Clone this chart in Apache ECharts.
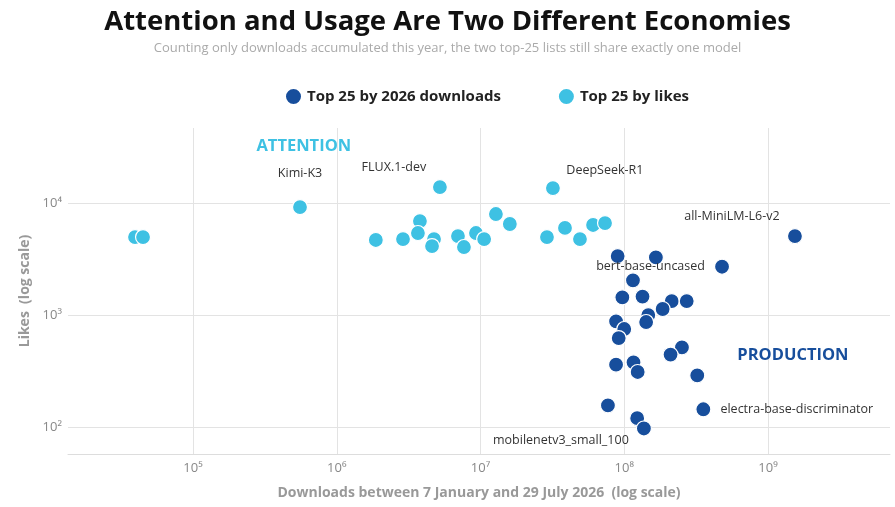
<!DOCTYPE html>
<html>
<head>
<meta charset="utf-8">
<script src="https://cdn.jsdelivr.net/npm/echarts@6/dist/echarts.min.js"></script>
<style>
  html, body { margin: 0; padding: 0; background: #fff; }
  #chart { width: 895px; height: 507px; }
</style>
</head>
<body>
<div id="chart"></div>
<script>
// top 25 by 2026 downloads (dark blue)
var dlNames = ['all-MiniLM-L6-v2', '', '', 'bert-base-uncased', '', '', '', '', '', '', '', '', '', '', '', '', '', '', '', '', '', 'electra-base-discriminator', '', 'mobilenetv3_small_100', ''];
var dlDownloads = [1.54e9, 9.0e7, 1.66e8, 4.79e8, 1.15e8, 9.7e7, 1.34e8, 2.14e8, 2.72e8, 1.85e8, 1.47e8, 1.42e8, 8.77e7, 1.0e8, 9.15e7, 2.52e8, 2.1e8, 8.77e7, 1.16e8, 1.24e8, 3.22e8, 3.55e8, 1.23e8, 1.37e8, 7.7e7];
var dlLikes = [5070, 3360, 3270, 2700, 2040, 1440, 1460, 1333, 1333, 1132, 1000, 866, 879, 750, 623, 514, 443, 360, 378, 310, 289, 144, 120, 97, 156];

// top 25 by likes (cyan)
var lkNames = ['', '', 'Kimi-K3', 'FLUX.1-dev', 'DeepSeek-R1', '', '', '', '', '', '', '', '', '', '', '', '', '', '', '', '', ''];
var lkDownloads = [3.95e4, 4.49e4, 5.55e5, 5.22e6, 3.19e7, 1.87e6, 2.89e6, 3.79e6, 3.67e6, 4.75e6, 4.6e6, 6.97e6, 9.3e6, 7.67e6, 1.06e7, 1.28e7, 1.6e7, 2.9e7, 3.87e7, 4.92e7, 6.07e7, 7.35e7];
var lkLikes = [4970, 4970, 9210, 13900, 13600, 4680, 4770, 6900, 5400, 4770, 4130, 5070, 5400, 4050, 4770, 7980, 6500, 4970, 5990, 4770, 6370, 6630];

// gridline positions (decades)
var xTicks = [1e5, 1e6, 1e7, 1e8, 1e9];
var yTicks = [1e2, 1e3, 1e4];

var DARK = '#174e9c';
var CYAN = '#3ec1e3';
var FONT = 'Open Sans';

// where each model name sits next to its dot
var labelPlace = {
  'all-MiniLM-L6-v2': { position: 'top', offset: [-63, 0] },
  'bert-base-uncased': { position: 'left', distance: 9 },
  'electra-base-discriminator': { position: 'right', distance: 9 },
  'mobilenetv3_small_100': { position: 'bottom', offset: [-83, -8] },
  'Kimi-K3': { position: 'top', distance: 19 },
  'FLUX.1-dev': { position: 'top', offset: [-46, 0] },
  'DeepSeek-R1': { position: 'top', offset: [52, 2] }
};

var SUP = { '0': '⁰', '1': '¹', '2': '²', '3': '³', '4': '⁴', '5': '⁵', '6': '⁶', '7': '⁷', '8': '⁸', '9': '⁹' };
function powLabel(v) {
  var e = Math.log10(v);
  var r = Math.round(e);
  if (Math.abs(e - r) > 1e-6) return '';
  return '10' + String(r).split('').map(function (c) { return SUP[c]; }).join('');
}

function buildData(names, xs, ys) {
  return xs.map(function (x, i) {
    var item = { name: names[i], value: [x, ys[i]] };
    if (names[i]) {
      item.label = Object.assign({
        show: true,
        formatter: '{b}',
        color: '#333',
        fontSize: 12.5,
        fontFamily: FONT
      }, labelPlace[names[i]]);
    }
    return item;
  });
}

// split lines drawn as markLines so the plot edges stay open
var gridLines = xTicks.map(function (v) { return { xAxis: v }; })
  .concat(yTicks.map(function (v) { return { yAxis: v }; }));

var chart = echarts.init(document.getElementById('chart'));
var option = {
  backgroundColor: '#fff',
  animation: false,
  title: {
    text: 'Attention and Usage Are Two Different Economies',
    subtext: 'Counting only downloads accumulated this year, the two top-25 lists still share exactly one model',
    left: 'center',
    top: 3,
    itemGap: 6,
    textStyle: { fontFamily: FONT, fontSize: 27.5, fontWeight: 'bold', color: '#111' },
    subtextStyle: { fontFamily: FONT, fontSize: 13, color: '#aaa' }
  },
  legend: {
    top: 82,
    left: 279,
    itemWidth: 17,
    itemHeight: 17,
    itemGap: 56,
    icon: 'circle',
    textStyle: { fontFamily: FONT, fontSize: 15, fontWeight: 'bold', color: '#222' },
    data: ['Top 25 by 2026 downloads', 'Top 25 by likes']
  },
  grid: { left: 68, right: 5, top: 128, bottom: 53 },
  xAxis: {
    type: 'log',
    logBase: 10,
    min: 13500,
    max: 7.06e9,
    name: 'Downloads between 7 January and 29 July 2026  (log scale)',
    nameLocation: 'middle',
    nameGap: 32,
    nameTextStyle: { fontFamily: FONT, fontSize: 14, fontWeight: 'bold', color: '#999' },
    axisLine: { show: true, lineStyle: { color: '#ddd' } },
    axisTick: { show: false },
    axisLabel: { formatter: powLabel, color: '#888', fontSize: 13, fontFamily: FONT, margin: 8 },
    splitLine: { show: false }
  },
  yAxis: {
    type: 'log',
    logBase: 10,
    min: 57.4,
    max: 46800,
    name: 'Likes  (log scale)',
    nameLocation: 'middle',
    nameGap: 34,
    nameTextStyle: { fontFamily: FONT, fontSize: 14, fontWeight: 'bold', color: '#999' },
    axisLine: { show: false },
    axisTick: { show: false },
    axisLabel: { formatter: powLabel, color: '#888', fontSize: 13, fontFamily: FONT, margin: 6 },
    splitLine: { show: false }
  },
  series: [
    {
      name: 'Top 25 by 2026 downloads',
      type: 'scatter',
      symbolSize: 15,
      itemStyle: { color: DARK, borderColor: '#fff', borderWidth: 1.2, opacity: 1 },
      data: buildData(dlNames, dlDownloads, dlLikes),
      markLine: {
        silent: true,
        z: 0,
        symbol: 'none',
        label: { show: false },
        lineStyle: { color: '#e3e3e3', type: 'solid', width: 1 },
        emphasis: { disabled: true },
        data: gridLines
      },
      markPoint: {
        symbol: 'circle',
        symbolSize: 0,
        silent: true,
        label: { show: true, formatter: '{b}', color: DARK, fontFamily: FONT, fontSize: 16.5, fontWeight: 'bold' },
        data: [{ name: 'PRODUCTION', coord: [1.49e9, 440] }]
      }
    },
    {
      name: 'Top 25 by likes',
      type: 'scatter',
      symbolSize: 15,
      itemStyle: { color: CYAN, borderColor: '#fff', borderWidth: 1.2, opacity: 1 },
      data: buildData(lkNames, lkDownloads, lkLikes),
      markPoint: {
        symbol: 'circle',
        symbolSize: 0,
        silent: true,
        label: { show: true, formatter: '{b}', color: CYAN, fontFamily: FONT, fontSize: 16.5, fontWeight: 'bold' },
        data: [{ name: 'ATTENTION', coord: [5.9e5, 32300] }]
      }
    }
  ]
};
chart.setOption(option);
</script>
</body>
</html>
